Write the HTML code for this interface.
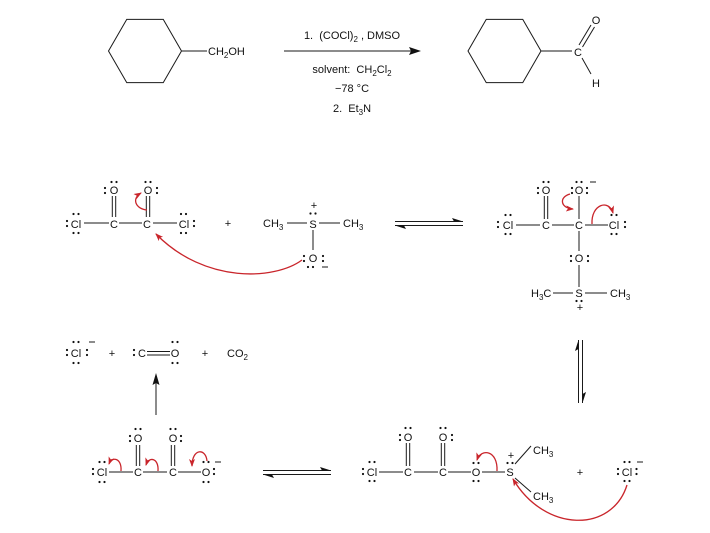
<!DOCTYPE html>
<html>
<head>
<meta charset="utf-8">
<style>
html,body{margin:0;padding:0;background:#fff;}
svg{display:block;}
text{font-family:"Liberation Sans",Arial,sans-serif;font-size:11px;fill:#111;}
.b{stroke:#1a1a1a;stroke-width:1;fill:none;}
.r{stroke:#c9252b;stroke-width:1.3;fill:none;}
.d{fill:#111;}
</style>
</head>
<body>
<svg width="710" height="533" viewBox="0 0 710 533" xmlns="http://www.w3.org/2000/svg">
<defs>
<marker id="rh" markerUnits="userSpaceOnUse" markerWidth="9" markerHeight="7" refX="7" refY="3" orient="auto">
<path d="M0,0 L8,3 L0,6 L2,3 z" fill="#c9252b"/>
</marker>
</defs>

<!-- ===== TOP REACTION ===== -->
<polygon class="b" points="108.5,51 126.75,19.4 163.25,19.4 181.5,51 163.25,82.6 126.75,82.6"/>
<line class="b" x1="181.5" y1="51" x2="207" y2="51"/>
<text x="208" y="55">CH<tspan font-size="8" dy="3">2</tspan><tspan dy="-3">OH</tspan></text>

<line class="b" x1="284" y1="51" x2="412" y2="51"/>
<polygon points="421,51 409,47 411,51 409,55" fill="#111"/>
<text x="352" y="39" text-anchor="middle" xml:space="preserve">1.  (COCl)<tspan font-size="8" dy="3">2</tspan><tspan dy="-3"> , DMSO</tspan></text>
<text x="352" y="73" text-anchor="middle" xml:space="preserve">solvent:  CH<tspan font-size="8" dy="3">2</tspan><tspan dy="-3">Cl</tspan><tspan font-size="8" dy="3">2</tspan></text>
<text x="352" y="92" text-anchor="middle">−78 °C</text>
<text x="352" y="112" text-anchor="middle" xml:space="preserve">2.  Et<tspan font-size="8" dy="3">3</tspan><tspan dy="-3">N</tspan></text>

<polygon class="b" points="468,51 486.25,19.4 522.75,19.4 541,51 522.75,82.6 486.25,82.6"/>
<line class="b" x1="541" y1="51" x2="572" y2="51"/>
<text x="578" y="56" text-anchor="middle">C</text>
<line class="b" x1="579" y1="45" x2="591" y2="25"/>
<line class="b" x1="582.5" y1="47" x2="594.5" y2="27"/>
<text x="596" y="24" text-anchor="middle">O</text>
<line class="b" x1="582" y1="58" x2="591" y2="74"/>
<text x="596" y="87" text-anchor="middle">H</text>

<!-- ===== MIDDLE LEFT: oxalyl chloride + DMSO ===== -->
<text x="76" y="228" text-anchor="middle">Cl</text>
<circle class="d" cx="67" cy="221" r="1.1"/><circle class="d" cx="67" cy="226" r="1.1"/>
<circle class="d" cx="73.5" cy="214" r="1.1"/><circle class="d" cx="78.5" cy="214" r="1.1"/>
<circle class="d" cx="73.5" cy="233" r="1.1"/><circle class="d" cx="78.5" cy="233" r="1.1"/>
<line class="b" x1="84" y1="223" x2="109" y2="223"/>
<text x="114" y="228" text-anchor="middle">C</text>
<line class="b" x1="119" y1="223" x2="142" y2="223"/>
<text x="147" y="228" text-anchor="middle">C</text>
<line class="b" x1="153" y1="223" x2="177" y2="223"/>
<text x="184" y="228" text-anchor="middle">Cl</text>
<circle class="d" cx="181" cy="214" r="1.1"/><circle class="d" cx="186" cy="214" r="1.1"/>
<circle class="d" cx="181" cy="233" r="1.1"/><circle class="d" cx="186" cy="233" r="1.1"/>
<circle class="d" cx="194" cy="221" r="1.1"/><circle class="d" cx="194" cy="226" r="1.1"/>
<!-- O1 -->
<text x="114" y="194" text-anchor="middle">O</text>
<circle class="d" cx="111.5" cy="182" r="1.1"/><circle class="d" cx="116.5" cy="182" r="1.1"/>
<circle class="d" cx="105" cy="188" r="1.1"/><circle class="d" cx="105" cy="193" r="1.1"/>
<line class="b" x1="112.3" y1="196" x2="112.3" y2="217"/>
<line class="b" x1="115.7" y1="196" x2="115.7" y2="217"/>
<!-- O2 -->
<text x="148" y="194" text-anchor="middle">O</text>
<circle class="d" cx="145.5" cy="182" r="1.1"/><circle class="d" cx="150.5" cy="182" r="1.1"/>
<circle class="d" cx="157" cy="188" r="1.1"/><circle class="d" cx="157" cy="193" r="1.1"/>
<line class="b" x1="146.3" y1="196" x2="146.3" y2="217"/>
<line class="b" x1="149.7" y1="196" x2="149.7" y2="217"/>
<path class="r" d="M147,210 C136,209 131,199 141,193" marker-end="url(#rh)"/>

<text x="228" y="227" text-anchor="middle">+</text>

<text x="263" y="227">CH<tspan font-size="8" dy="3">3</tspan></text>
<line class="b" x1="287" y1="223" x2="307" y2="223"/>
<text x="313" y="228" text-anchor="middle">S</text>
<line class="b" x1="319" y1="223" x2="340" y2="223"/>
<text x="343" y="227">CH<tspan font-size="8" dy="3">3</tspan></text>
<text x="314" y="209" text-anchor="middle">+</text>
<circle class="d" cx="310.5" cy="213.5" r="1.1"/><circle class="d" cx="315.5" cy="213.5" r="1.1"/>
<line class="b" x1="313" y1="230" x2="313" y2="250"/>
<text x="313" y="262" text-anchor="middle">O</text>
<circle class="d" cx="304" cy="256" r="1.1"/><circle class="d" cx="304" cy="261" r="1.1"/>
<circle class="d" cx="323" cy="256" r="1.1"/><circle class="d" cx="323" cy="261" r="1.1"/>
<circle class="d" cx="308" cy="267" r="1.1"/><circle class="d" cx="313" cy="267" r="1.1"/>
<line class="b" x1="322" y1="267" x2="328" y2="267"/>
<path class="r" d="M302,260 C275,280 205,284 156,234" marker-end="url(#rh)"/>

<!-- equilibrium arrow 1 -->
<line class="b" x1="395" y1="221.5" x2="463" y2="221.5"/>
<polygon points="463,221.5 452,218 454,221.5" fill="#111"/>
<line class="b" x1="395" y1="225.5" x2="463" y2="225.5"/>
<polygon points="395,225.5 406,229 404,225.5" fill="#111"/>

<!-- ===== MIDDLE RIGHT: intermediate ===== -->
<text x="508" y="229" text-anchor="middle">Cl</text>
<circle class="d" cx="498" cy="222" r="1.1"/><circle class="d" cx="498" cy="227" r="1.1"/>
<circle class="d" cx="505.5" cy="215" r="1.1"/><circle class="d" cx="510.5" cy="215" r="1.1"/>
<circle class="d" cx="505.5" cy="234" r="1.1"/><circle class="d" cx="510.5" cy="234" r="1.1"/>
<line class="b" x1="516" y1="225" x2="540" y2="225"/>
<text x="546" y="229" text-anchor="middle">C</text>
<line class="b" x1="552" y1="225" x2="574" y2="225"/>
<text x="579" y="229" text-anchor="middle">C</text>
<line class="b" x1="585" y1="225" x2="608" y2="225"/>
<text x="614" y="229" text-anchor="middle">Cl</text>
<circle class="d" cx="611.5" cy="215" r="1.1"/><circle class="d" cx="616.5" cy="215" r="1.1"/>
<circle class="d" cx="611.5" cy="234" r="1.1"/><circle class="d" cx="616.5" cy="234" r="1.1"/>
<circle class="d" cx="625" cy="222" r="1.1"/><circle class="d" cx="625" cy="227" r="1.1"/>
<!-- O1 -->
<text x="546" y="194" text-anchor="middle">O</text>
<circle class="d" cx="543.5" cy="182" r="1.1"/><circle class="d" cx="548.5" cy="182" r="1.1"/>
<circle class="d" cx="538" cy="188" r="1.1"/><circle class="d" cx="538" cy="193" r="1.1"/>
<line class="b" x1="544.3" y1="196" x2="544.3" y2="219"/>
<line class="b" x1="547.7" y1="196" x2="547.7" y2="219"/>
<!-- O2 minus -->
<text x="579" y="194" text-anchor="middle">O</text>
<circle class="d" cx="576.5" cy="182" r="1.1"/><circle class="d" cx="581.5" cy="182" r="1.1"/>
<circle class="d" cx="572" cy="188" r="1.1"/><circle class="d" cx="572" cy="193" r="1.1"/>
<circle class="d" cx="587" cy="188" r="1.1"/><circle class="d" cx="587" cy="193" r="1.1"/>
<line class="b" x1="590" y1="182" x2="596" y2="182"/>
<line class="b" x1="579" y1="196" x2="579" y2="219"/>
<path class="r" d="M570,194 C559,197 560,208 573,209" marker-end="url(#rh)"/>
<path class="r" d="M592,224 C591,204 609,199 613,213" marker-end="url(#rh)"/>
<!-- O3 -->
<line class="b" x1="579" y1="231" x2="579" y2="251"/>
<text x="579" y="262" text-anchor="middle">O</text>
<circle class="d" cx="571" cy="256" r="1.1"/><circle class="d" cx="571" cy="261" r="1.1"/>
<circle class="d" cx="588" cy="256" r="1.1"/><circle class="d" cx="588" cy="261" r="1.1"/>
<line class="b" x1="579" y1="265" x2="579" y2="287"/>
<text x="579" y="297" text-anchor="middle">S</text>
<circle class="d" cx="576.5" cy="301" r="1.1"/><circle class="d" cx="581.5" cy="301" r="1.1"/>
<text x="580" y="311" text-anchor="middle">+</text>
<text x="531" y="297">H<tspan font-size="8" dy="3">3</tspan><tspan dy="-3">C</tspan></text>
<line class="b" x1="553" y1="293" x2="573" y2="293"/>
<line class="b" x1="585" y1="293" x2="607" y2="293"/>
<text x="610" y="297">CH<tspan font-size="8" dy="3">3</tspan></text>

<!-- vertical equilibrium -->
<line class="b" x1="578.5" y1="340" x2="578.5" y2="403"/>
<polygon points="578.5,340 575,351 578.5,349" fill="#111"/>
<line class="b" x1="582.5" y1="340" x2="582.5" y2="403"/>
<polygon points="582.5,403 586,392 582.5,394" fill="#111"/>

<!-- ===== BOTTOM RIGHT ===== -->
<text x="372" y="476" text-anchor="middle">Cl</text>
<circle class="d" cx="363" cy="469" r="1.1"/><circle class="d" cx="363" cy="474" r="1.1"/>
<circle class="d" cx="369.5" cy="462" r="1.1"/><circle class="d" cx="374.5" cy="462" r="1.1"/>
<circle class="d" cx="369.5" cy="481" r="1.1"/><circle class="d" cx="374.5" cy="481" r="1.1"/>
<line class="b" x1="379" y1="472" x2="403" y2="472"/>
<text x="408" y="476" text-anchor="middle">C</text>
<line class="b" x1="414" y1="472" x2="438" y2="472"/>
<text x="443" y="476" text-anchor="middle">C</text>
<line class="b" x1="448" y1="472" x2="471" y2="472"/>
<text x="476" y="476" text-anchor="middle">O</text>
<circle class="d" cx="473.5" cy="463" r="1.1"/><circle class="d" cx="478.5" cy="463" r="1.1"/>
<circle class="d" cx="473.5" cy="481" r="1.1"/><circle class="d" cx="478.5" cy="481" r="1.1"/>
<line class="b" x1="482" y1="472" x2="505" y2="472"/>
<text x="510" y="476" text-anchor="middle">S</text>
<text x="511" y="459" text-anchor="middle">+</text>
<circle class="d" cx="507.5" cy="463" r="1.1"/><circle class="d" cx="512.5" cy="463" r="1.1"/>
<line class="b" x1="515" y1="464" x2="531" y2="446"/>
<text x="533" y="454">CH<tspan font-size="8" dy="3">3</tspan></text>
<line class="b" x1="515" y1="478" x2="531" y2="492"/>
<text x="533" y="500">CH<tspan font-size="8" dy="3">3</tspan></text>
<!-- O1 -->
<text x="408" y="441" text-anchor="middle">O</text>
<circle class="d" cx="405.5" cy="428" r="1.1"/><circle class="d" cx="410.5" cy="428" r="1.1"/>
<circle class="d" cx="400" cy="435" r="1.1"/><circle class="d" cx="400" cy="440" r="1.1"/>
<line class="b" x1="406.3" y1="443" x2="406.3" y2="466"/>
<line class="b" x1="409.7" y1="443" x2="409.7" y2="466"/>
<!-- O2 -->
<text x="443" y="441" text-anchor="middle">O</text>
<circle class="d" cx="440.5" cy="428" r="1.1"/><circle class="d" cx="445.5" cy="428" r="1.1"/>
<circle class="d" cx="452" cy="435" r="1.1"/><circle class="d" cx="452" cy="440" r="1.1"/>
<line class="b" x1="441.3" y1="443" x2="441.3" y2="466"/>
<line class="b" x1="444.7" y1="443" x2="444.7" y2="466"/>
<path class="r" d="M497,471 C498,450 481,448 477,460" marker-end="url(#rh)"/>

<text x="580" y="476" text-anchor="middle">+</text>

<text x="627" y="476" text-anchor="middle">Cl</text>
<circle class="d" cx="618" cy="469" r="1.1"/><circle class="d" cx="618" cy="474" r="1.1"/>
<circle class="d" cx="636.5" cy="469" r="1.1"/><circle class="d" cx="636.5" cy="474" r="1.1"/>
<circle class="d" cx="624.5" cy="462" r="1.1"/><circle class="d" cx="629.5" cy="462" r="1.1"/>
<circle class="d" cx="624.5" cy="481" r="1.1"/><circle class="d" cx="629.5" cy="481" r="1.1"/>
<line class="b" x1="637" y1="462" x2="643" y2="462"/>
<path class="r" d="M627,485 C612,533 545,533 513,479" marker-end="url(#rh)"/>

<!-- bottom equilibrium -->
<line class="b" x1="263" y1="470.5" x2="331" y2="470.5"/>
<polygon points="331,470.5 320,467 322,470.5" fill="#111"/>
<line class="b" x1="263" y1="474.5" x2="331" y2="474.5"/>
<polygon points="263,474.5 274,478 272,474.5" fill="#111"/>

<!-- ===== BOTTOM LEFT ===== -->
<text x="102" y="476" text-anchor="middle">Cl</text>
<circle class="d" cx="93" cy="469" r="1.1"/><circle class="d" cx="93" cy="474" r="1.1"/>
<circle class="d" cx="99.5" cy="462" r="1.1"/><circle class="d" cx="104.5" cy="462" r="1.1"/>
<circle class="d" cx="99.5" cy="482" r="1.1"/><circle class="d" cx="104.5" cy="482" r="1.1"/>
<line class="b" x1="109" y1="472" x2="133" y2="472"/>
<text x="138" y="476" text-anchor="middle">C</text>
<line class="b" x1="143" y1="472" x2="167" y2="472"/>
<text x="173" y="476" text-anchor="middle">C</text>
<line class="b" x1="178" y1="472" x2="201" y2="472"/>
<text x="206" y="476" text-anchor="middle">O</text>
<circle class="d" cx="203.5" cy="462" r="1.1"/><circle class="d" cx="208.5" cy="462" r="1.1"/>
<circle class="d" cx="203.5" cy="482" r="1.1"/><circle class="d" cx="208.5" cy="482" r="1.1"/>
<circle class="d" cx="214" cy="469" r="1.1"/><circle class="d" cx="214" cy="474" r="1.1"/>
<line class="b" x1="215" y1="462" x2="221" y2="462"/>
<!-- O1 -->
<text x="138" y="442" text-anchor="middle">O</text>
<circle class="d" cx="135.5" cy="429" r="1.1"/><circle class="d" cx="140.5" cy="429" r="1.1"/>
<circle class="d" cx="130" cy="436" r="1.1"/><circle class="d" cx="130" cy="441" r="1.1"/>
<line class="b" x1="136.3" y1="445" x2="136.3" y2="466"/>
<line class="b" x1="139.7" y1="445" x2="139.7" y2="466"/>
<!-- O2 -->
<text x="173" y="442" text-anchor="middle">O</text>
<circle class="d" cx="170.5" cy="429" r="1.1"/><circle class="d" cx="175.5" cy="429" r="1.1"/>
<circle class="d" cx="181" cy="436" r="1.1"/><circle class="d" cx="181" cy="441" r="1.1"/>
<line class="b" x1="171.3" y1="445" x2="171.3" y2="466"/>
<line class="b" x1="174.7" y1="445" x2="174.7" y2="466"/>
<path class="r" d="M121,471 C122,458 112,456 109,464" marker-end="url(#rh)"/>
<path class="r" d="M158,471 C159,458 149,456 146,465" marker-end="url(#rh)"/>
<path class="r" d="M207,461 C206,448 192,448 192,466" marker-end="url(#rh)"/>

<!-- vertical arrow -->
<line class="b" x1="156" y1="415" x2="156" y2="381"/>
<polygon points="156,373 152.5,385 156,383 159.5,385" fill="#111"/>

<!-- ===== UPPER LEFT products ===== -->
<text x="76" y="357" text-anchor="middle">Cl</text>
<circle class="d" cx="67" cy="350" r="1.1"/><circle class="d" cx="67" cy="355" r="1.1"/>
<circle class="d" cx="87" cy="350" r="1.1"/><circle class="d" cx="87" cy="355" r="1.1"/>
<circle class="d" cx="73.5" cy="342" r="1.1"/><circle class="d" cx="78.5" cy="342" r="1.1"/>
<circle class="d" cx="73.5" cy="363" r="1.1"/><circle class="d" cx="78.5" cy="363" r="1.1"/>
<line class="b" x1="89" y1="342" x2="95" y2="342"/>
<text x="112" y="357" text-anchor="middle">+</text>
<circle class="d" cx="134" cy="350" r="1.1"/><circle class="d" cx="134" cy="355" r="1.1"/>
<text x="142" y="357" text-anchor="middle">C</text>
<line class="b" x1="147" y1="351.5" x2="170" y2="351.5"/>
<line class="b" x1="147" y1="355" x2="170" y2="355"/>
<text x="175" y="357" text-anchor="middle">O</text>
<circle class="d" cx="172.5" cy="342" r="1.1"/><circle class="d" cx="177.5" cy="342" r="1.1"/>
<circle class="d" cx="172.5" cy="363" r="1.1"/><circle class="d" cx="177.5" cy="363" r="1.1"/>
<text x="205" y="357" text-anchor="middle">+</text>
<text x="227" y="357">CO<tspan font-size="8" dy="3">2</tspan></text>
</svg>
</body>
</html>
